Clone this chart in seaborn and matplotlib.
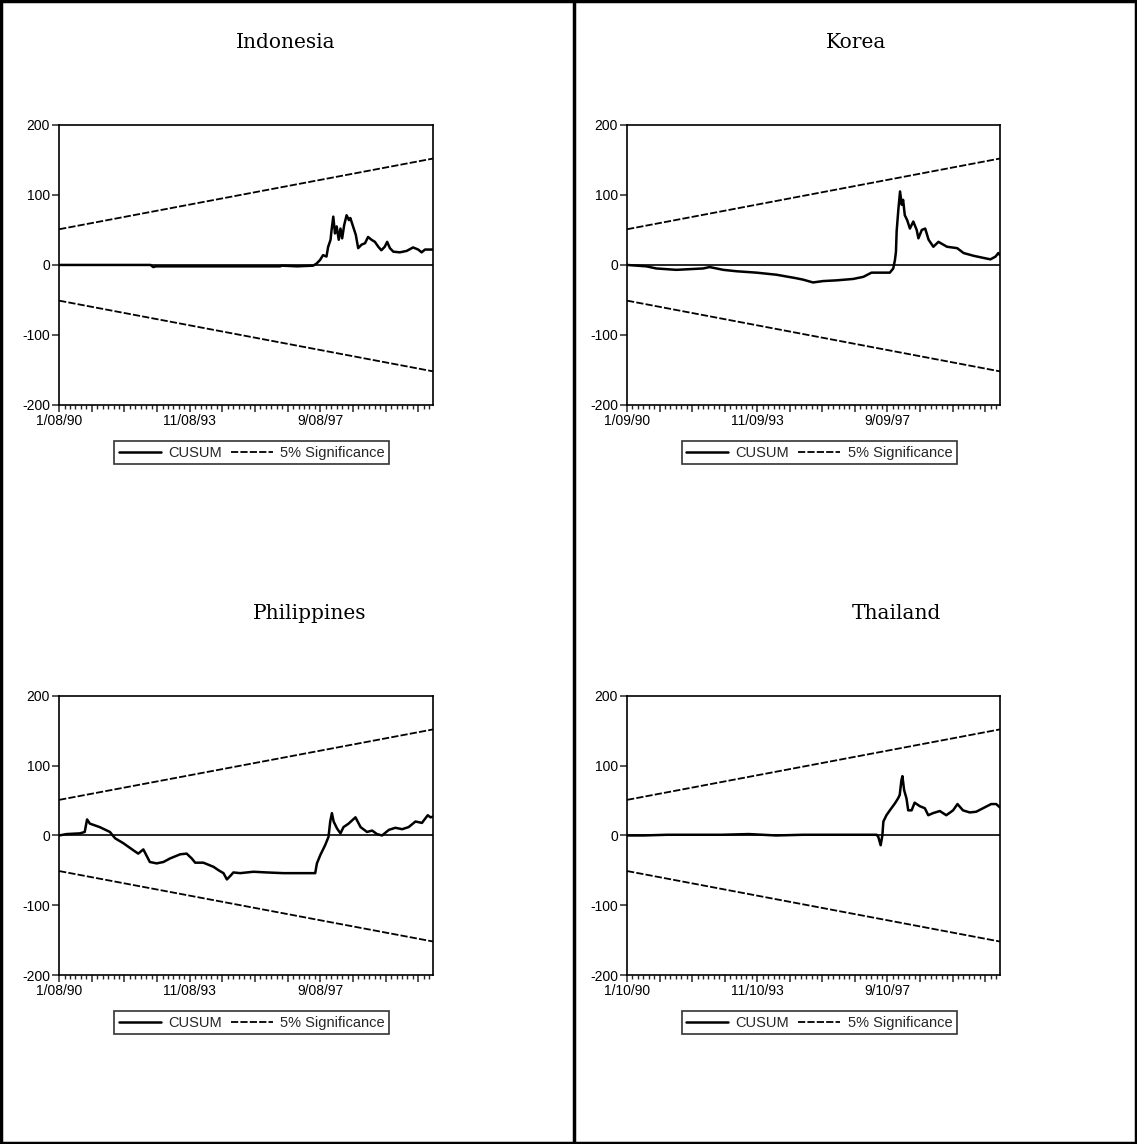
import numpy as np
import pandas as pd
import seaborn as sns
import matplotlib.pyplot as plt
from matplotlib.patches import Rectangle
from matplotlib.lines import Line2D

sns.set_style('ticks')
plt.rcParams['font.family'] = ['Liberation Sans', 'DejaVu Sans']

# CUSUM test of parameter stability, four Asian markets (daily data, 1990-2000)
# x values are in decimal years

indo_year = [1990.02, 1991.0, 1992.0, 1992.7, 1992.78, 1992.86, 1993.5, 1994.4, 1995.3,
             1996.2, 1996.5, 1996.55, 1997.0, 1997.47, 1997.57, 1997.67, 1997.76, 1997.86,
             1997.91, 1997.98, 1998.01, 1998.06, 1998.11, 1998.16, 1998.22, 1998.27, 1998.32,
             1998.38, 1998.45, 1998.52, 1998.56, 1998.64, 1998.72, 1998.79, 1998.89, 1998.99,
             1999.08, 1999.18, 1999.28, 1999.38, 1999.47, 1999.57, 1999.64, 1999.72, 1999.82,
             2000.01, 2000.21, 2000.4, 2000.55, 2000.65, 2000.75, 2000.91, 2000.99]
indo_cusum = [0, 0, 0, 0, -3, -2, -2, -2, -2,
              -2, -2, -1, -2, -1, 2, 7, 14, 12,
              26, 36, 50, 69, 45, 55, 36, 52, 38,
              57, 71, 64, 67, 55, 43, 24, 29, 31,
              40, 36, 33, 26, 21, 26, 33, 24, 19,
              18, 20, 25, 22, 18, 22, 22, 22]

korea_year = [1990.02, 1990.59, 1990.88, 1991.47, 1992.26, 1992.45, 1992.85, 1993.24, 1993.83,
              1994.42, 1995.0, 1995.2, 1995.49, 1995.79, 1996.18, 1996.67, 1996.97, 1997.21,
              1997.36, 1997.75, 1997.85, 1997.9, 1997.93, 1997.95, 1998.0, 1998.05, 1998.1,
              1998.14, 1998.19, 1998.26, 1998.34, 1998.44, 1998.54, 1998.59, 1998.69, 1998.79,
              1998.89, 1999.03, 1999.18, 1999.43, 1999.73, 1999.92, 2000.22, 2000.51, 2000.71,
              2000.86, 2000.94, 2000.99]
korea_cusum = [0, -2, -5, -7, -5, -3, -7, -9, -11,
               -14, -19, -21, -25, -23, -22, -20, -17, -11,
               -11, -11, -5, 7, 19, 48, 79, 105, 86,
               93, 71, 64, 52, 62, 50, 38, 50, 52,
               36, 26, 33, 26, 24, 17, 13, 10, 8,
               12, 17, 14]

phil_year = [1990.02, 1990.24, 1990.63, 1990.77, 1990.84, 1990.92, 1991.21, 1991.51, 1991.66,
             1991.9, 1992.19, 1992.34, 1992.49, 1992.68, 1992.88, 1993.08, 1993.27, 1993.57,
             1993.76, 1993.91, 1994.01, 1994.25, 1994.55, 1994.7, 1994.84, 1994.94, 1995.04,
             1995.13, 1995.33, 1995.72, 1996.11, 1996.6, 1997.53, 1997.58, 1997.68, 1997.82,
             1997.92, 1997.97, 1998.02, 1998.07, 1998.17, 1998.27, 1998.36, 1998.51, 1998.71,
             1998.86, 1999.05, 1999.2, 1999.34, 1999.49, 1999.69, 1999.88, 2000.08, 2000.27,
             2000.47, 2000.66, 2000.83, 2000.91, 2000.99]
phil_cusum = [0, 2, 3, 5, 23, 17, 12, 5, -4,
              -11, -21, -26, -20, -38, -40, -38, -33, -27,
              -26, -33, -39, -39, -45, -50, -54, -63, -58,
              -53, -54, -52, -53, -54, -54, -40, -28, -14,
              -2, 20, 32, 20, 10, 3, 12, 17, 26,
              12, 5, 7, 2, 0, 8, 11, 9, 12,
              20, 18, 29, 26, 27]

thai_year = [1990.02, 1990.5, 1991.2, 1992.0, 1992.8, 1993.6, 1994.4, 1995.2, 1996.0,
             1996.8, 1997.36, 1997.41, 1997.48, 1997.53, 1997.56, 1997.65, 1997.75, 1997.9,
             1997.99, 1998.04, 1998.09, 1998.12, 1998.17, 1998.24, 1998.29, 1998.39, 1998.48,
             1998.63, 1998.78, 1998.88, 1999.02, 1999.22, 1999.41, 1999.61, 1999.74, 1999.9,
             2000.1, 2000.29, 2000.49, 2000.73, 2000.88, 2000.99]
thai_cusum = [0, 0, 1, 1, 1, 2, 0, 1, 1,
              1, 1, -2, -14, 0, 20, 29, 36, 46,
              53, 58, 79, 85, 65, 53, 36, 36, 47,
              42, 39, 29, 32, 35, 29, 36, 45, 36,
              33, 34, 39, 45, 45, 40]

# 5% significance bounds (straight lines between the two end values)
sig_year = [1990.02, 2000.99]
sig_upper = [51, 152]
sig_lower = [-51, -152]

countries = ['Indonesia', 'Korea', 'Philippines', 'Thailand']
years = [indo_year, korea_year, phil_year, thai_year]
cusums = [indo_cusum, korea_cusum, phil_cusum, thai_cusum]
date_labels = [['1/08/90', '11/08/93', '9/08/97'],
               ['1/09/90', '11/09/93', '9/09/97'],
               ['1/08/90', '11/08/93', '9/08/97'],
               ['1/10/90', '11/10/93', '9/10/97']]
label_years = [1990.02, 1993.85, 1997.69]

fig = plt.figure(figsize=(11.37, 11.44), dpi=100)

# axes positions in figure fractions
ax_pos = [[0.052, 0.646, 0.329, 0.2448],
          [0.5515, 0.646, 0.328, 0.2448],
          [0.052, 0.1477, 0.329, 0.244],
          [0.5515, 0.1477, 0.328, 0.244]]
title_pos = [(0.2515, 0.963), (0.753, 0.963), (0.2726, 0.464), (0.788, 0.464)]

dash = (0, (4, 1.2))
for i in range(4):
    ax = fig.add_axes(ax_pos[i])
    df = pd.DataFrame({'year': years[i], 'cusum': cusums[i]})
    ax.axhline(0, color='black', lw=1.2, zorder=1)
    sns.lineplot(data=df, x='year', y='cusum', ax=ax, color='black', lw=1.8,
                 estimator=None, errorbar=None, label='CUSUM', zorder=3)
    sns.lineplot(x=sig_year, y=sig_upper, ax=ax, color='black', lw=1.3,
                 linestyle=dash, estimator=None, errorbar=None, label='5% Significance')
    sns.lineplot(x=sig_year, y=sig_lower, ax=ax, color='black', lw=1.3,
                 linestyle=dash, estimator=None, errorbar=None)

    ax.set_xlim(1990.02, 2000.99)
    ax.set_ylim(-200, 200)
    ax.set_yticks([-200, -100, 0, 100, 200])
    ax.set_yticklabels(['-200', '-100', '0', '100', '200'])
    step = (label_years[1] - label_years[0]) / 4
    major = [label_years[0] + k * step for k in range(12) if label_years[0] + k * step <= 2000.99]
    ax.set_xticks(major)
    labs = [''] * len(major)
    labs[0], labs[4], labs[8] = date_labels[i]
    ax.set_xticklabels(labs)
    minor = [label_years[0] + k * step / 6 for k in range(80) if label_years[0] + k * step / 6 <= 2000.99]
    ax.set_xticks(minor, minor=True)
    ax.tick_params(axis='both', which='major', labelsize=10, length=5, width=1.1, pad=1.5,
                   labelcolor='black')
    ax.tick_params(axis='x', which='minor', length=3, width=1.0)
    ax.set_xlabel('')
    ax.set_ylabel('')
    for s in ax.spines.values():
        s.set_linewidth(1.2)
        s.set_color('black')

    leg = ax.legend(loc='upper center', bbox_to_anchor=(0.515, -0.13), ncol=2,
                    fontsize=10.5, frameon=True, fancybox=False, handlelength=2.9,
                    columnspacing=0.6, handletextpad=0.5, borderpad=0.3, borderaxespad=0)
    leg.get_frame().set_edgecolor('black')
    leg.get_frame().set_linewidth(1.2)

    fig.text(title_pos[i][0], title_pos[i][1], countries[i], ha='center', va='center',
             fontsize=14.5, color='black', family=['DejaVu Serif'])

# outer frame and divider
fig.patches.append(Rectangle((0.001, 0.001), 0.998, 0.998, transform=fig.transFigure,
                             fill=False, lw=2.5, edgecolor='black'))
fig.add_artist(Line2D([0.505, 0.505], [0, 1], transform=fig.transFigure, color='black', lw=2.5))

fig.savefig('out.png', dpi=100)
